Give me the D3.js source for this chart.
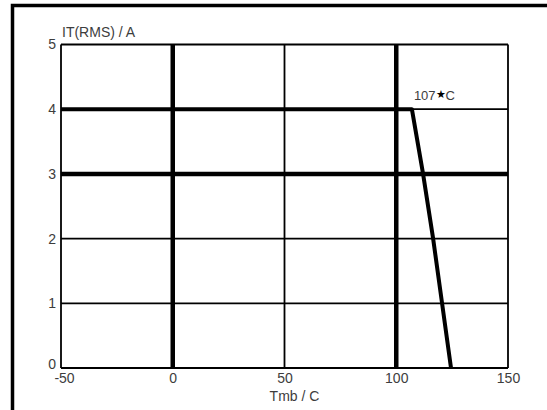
<!DOCTYPE html>
<html>
<head>
<meta charset="utf-8">
<script src="https://cdn.jsdelivr.net/npm/d3@7/dist/d3.min.js"></script>
<style>
  html, body { margin: 0; padding: 0; background: #fff; }
  svg { display: block; }
  text { font-family: "Liberation Sans", Arial, sans-serif; fill: #3d3d3d; }
</style>
</head>
<body>
<svg id="chart" width="547" height="410"></svg>
<script>
// Derating curve: on-state RMS current vs mounting-base temperature
const tmb = [-50, 107, 112, 116.5, 120.5, 124.5];
const itRms = [4, 4, 3, 2, 1, 0];

const xTicks = [-50, 0, 50, 100, 150];
const yTicks = [0, 1, 2, 3, 4, 5];
const boldX = [0, 100];
const boldY = [3];

const xLabel = "Tmb / C";
const yLabel = "IT(RMS) / A";
const kneeTemp = 107;

const svg = d3.select("#chart");
const plotLeft = 61, plotRight = 508, plotTop = 44.5, plotBottom = 368;
const fontFamily = "Liberation Sans, Arial, sans-serif";

const x = d3.scaleLinear().domain([-50, 150]).range([plotLeft, plotRight]);
const y = d3.scaleLinear().domain([0, 5]).range([plotBottom, plotTop]);

// outer frame (continues past the window edges)
svg.append("rect")
  .attr("x", 12.5).attr("y", 5.5)
  .attr("width", 560).attr("height", 420)
  .attr("fill", "none").attr("stroke", "#000").attr("stroke-width", 3.5);

// grid lines
const grid = svg.append("g");
grid.selectAll("line.vx").data(xTicks).join("line")
  .attr("class", "vx")
  .attr("x1", d => x(d)).attr("x2", d => x(d))
  .attr("y1", y(0)).attr("y2", y(5))
  .attr("stroke", "#000")
  .attr("stroke-width", d => boldX.includes(d) ? 4.5 : 1.8);
grid.selectAll("line.hy").data(yTicks).join("line")
  .attr("class", "hy")
  .attr("x1", x(-50)).attr("x2", x(150))
  .attr("y1", d => y(d)).attr("y2", d => y(d))
  .attr("stroke", "#000")
  .attr("stroke-width", d => boldY.includes(d) ? 4.5 : 1.8);

// derating curve
const pts = tmb.map((t, i) => [t, itRms[i]]);
svg.append("path")
  .datum(pts)
  .attr("d", d3.line().x(d => x(d[0])).y(d => y(d[1])))
  .attr("fill", "none").attr("stroke", "#000")
  .attr("stroke-width", 4).attr("stroke-linejoin", "round");

// axis tick labels
const xAxis = d3.axisBottom(x).tickValues(xTicks).tickSize(0).tickPadding(5)
  .tickFormat(d => String(d));
const gx = svg.append("g").attr("transform", `translate(0,${plotBottom})`).call(xAxis);
gx.select(".domain").remove();
gx.selectAll("text").attr("font-size", 14).attr("font-family", fontFamily).attr("fill", "#3d3d3d")
  .attr("dx", d => d === -50 ? 3 : 0);

const yAxis = d3.axisLeft(y).tickValues(yTicks).tickSize(0).tickPadding(5).tickFormat(d3.format("d"));
const gy = svg.append("g").attr("transform", `translate(${plotLeft},0)`).call(yAxis);
gy.select(".domain").remove();
gy.selectAll("text").attr("font-size", 14).attr("font-family", fontFamily).attr("fill", "#3d3d3d")
  .attr("dy", d => d === 0 ? "0.05em" : "0.32em");

// axis titles
svg.append("text")
  .attr("x", x(50) + 10).attr("y", 401)
  .attr("text-anchor", "middle").attr("font-size", 14)
  .text(xLabel);
svg.append("text")
  .attr("x", plotLeft + 1).attr("y", 37)
  .attr("font-size", 14)
  .text(yLabel);

// knee annotation
const ann = svg.append("text")
  .attr("x", x(kneeTemp) + 2).attr("y", 100)
  .attr("font-size", 13);
ann.append("tspan").text(String(kneeTemp));
ann.append("tspan").attr("font-size", 11).attr("dy", -2).style("fill", "#000").text("★");
ann.append("tspan").attr("dy", 2).text("C");
</script>
</body>
</html>
